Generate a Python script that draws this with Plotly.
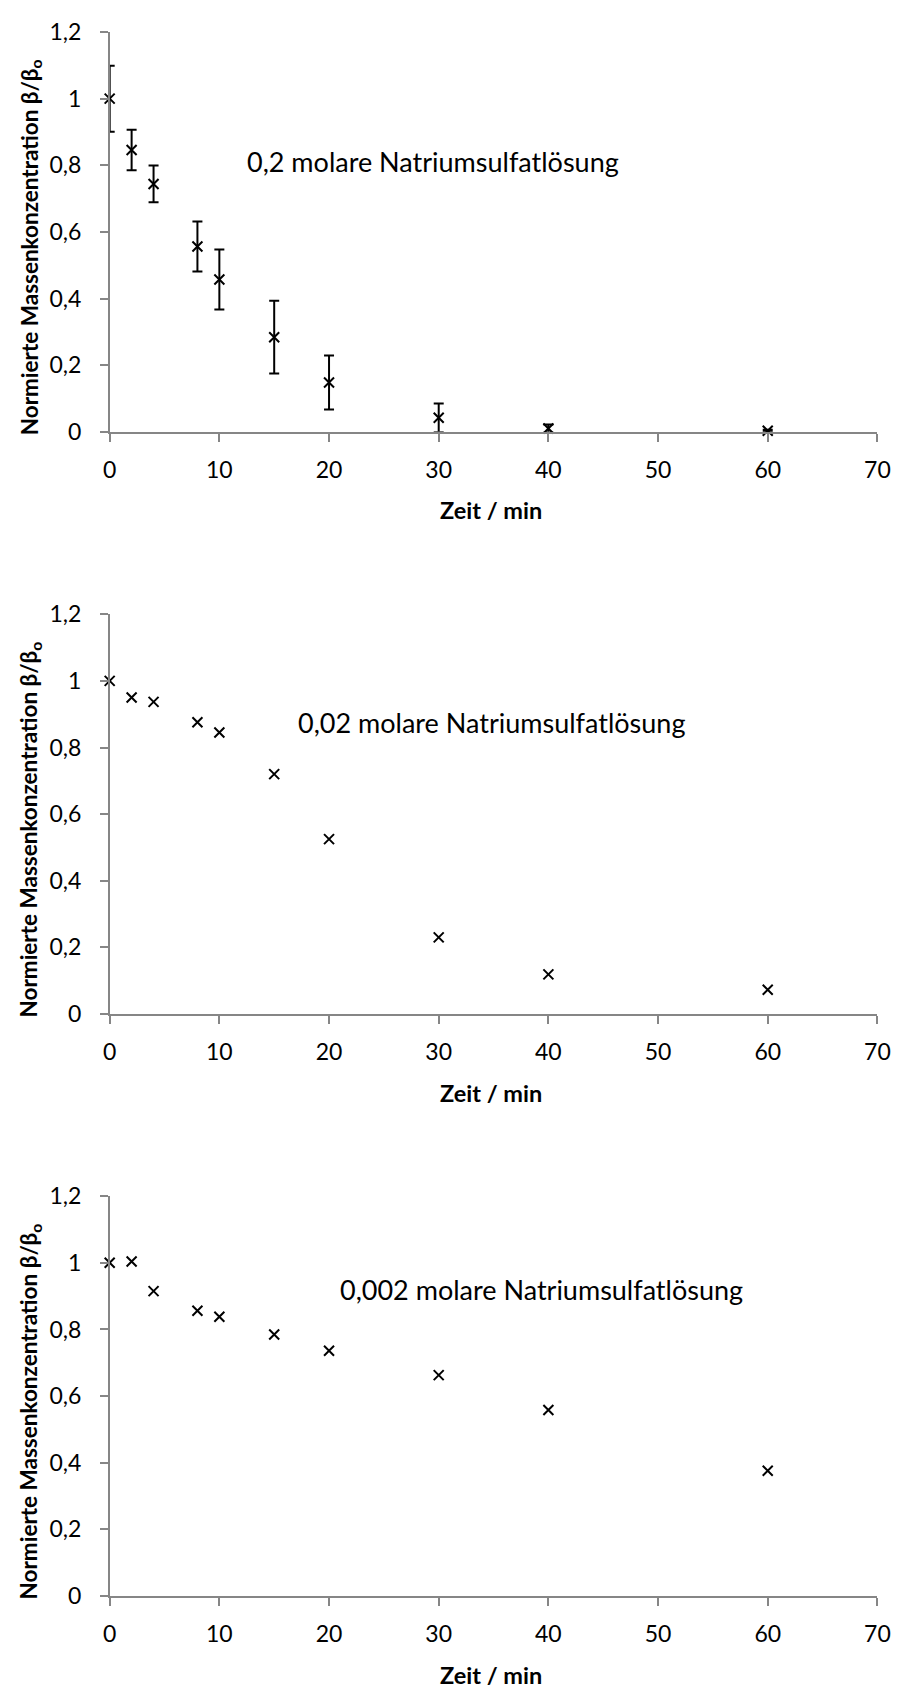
import plotly.graph_objects as go

# Messzeitpunkte (min)
zeit = [0, 2, 4, 8, 10, 15, 20, 30, 40, 60]

# 0,2 molare Natriumsulfatlösung: Mittelwerte und Standardabweichungen
beta_02 = [1.0, 0.846, 0.744, 0.556, 0.457, 0.284, 0.148, 0.042, 0.010, 0.003]
fehler_02 = [0.099, 0.061, 0.055, 0.075, 0.090, 0.109, 0.081, 0.043, 0.012, 0.003]

# 0,02 molare Natriumsulfatlösung
beta_002 = [1.0, 0.950, 0.937, 0.876, 0.845, 0.720, 0.525, 0.230, 0.119, 0.073]

# 0,002 molare Natriumsulfatlösung
beta_0002 = [1.0, 1.004, 0.915, 0.856, 0.838, 0.785, 0.736, 0.663, 0.558, 0.376]

panel_labels = [
    "0,2 molare Natriumsulfatlösung",
    "0,02 molare Natriumsulfatlösung",
    "0,002 molare Natriumsulfatlösung",
]

x_ticks = [0, 10, 20, 30, 40, 50, 60, 70]
x_ticktext = ["0", "10", "20", "30", "40", "50", "60", "70"]
y_ticks = [0, 0.2, 0.4, 0.6, 0.8, 1.0, 1.2]
y_ticktext = ["0", "0,2", "0,4", "0,6", "0,8", "1", "1,2"]

x_title = "Zeit / min"
y_title = "Normierte Massenkonzentration β/β<sub>o</sub>"

W, H = 908, 1697
FONT = "Lato, 'Open Sans', sans-serif"
AXIS_GREY = "#868686"

# pixel layout of the three stacked plot areas
left_px, right_px = 105, 890
tops_px = [17.3, 609.3, 1201.0]
plot_h = 406.5
label_pos = [(243, 0.81), (296, 0.875), (338, 0.92)]


def px_x(p):
    return p / W


def px_y(p):
    return 1 - p / H


fig = go.Figure()

series = [beta_02, beta_002, beta_0002]
for i, ys in enumerate(series):
    n = "" if i == 0 else str(i + 1)
    kw = dict(
        x=zeit,
        y=ys,
        mode="markers",
        marker=dict(symbol="x-thin", size=10, color="black",
                    line=dict(color="black", width=2)),
        xaxis="x" + n,
        yaxis="y" + n,
        showlegend=False,
        cliponaxis=False,
    )
    if i == 0:
        kw["error_y"] = dict(type="data", array=fehler_02, visible=True,
                             color="black", thickness=2, width=5)
    fig.add_trace(go.Scatter(**kw))

axis_common = dict(
    showline=True, linecolor=AXIS_GREY, linewidth=1.5,
    ticks="outside", ticklen=8, tickcolor=AXIS_GREY, tickwidth=1.5,
    showgrid=False, zeroline=False,
    tickfont=dict(family=FONT, size=23, color="black"),
    fixedrange=True,
)

layout = dict(
    width=W, height=H,
    margin=dict(l=0, r=0, t=0, b=0),
    paper_bgcolor="white", plot_bgcolor="white",
    font=dict(family=FONT, color="black"),
    annotations=[],
)

for i, top in enumerate(tops_px):
    n = "" if i == 0 else str(i + 1)
    bottom = top + plot_h
    layout["xaxis" + n] = dict(
        axis_common,
        domain=[px_x(left_px), px_x(right_px)],
        range=[0, 70], tickvals=x_ticks, ticktext=x_ticktext,
        anchor="y" + n, ticklabelstandoff=9,
    )
    layout["yaxis" + n] = dict(
        axis_common,
        domain=[px_y(bottom), px_y(top)],
        range=[0, 1.2], tickvals=y_ticks, ticktext=y_ticktext,
        anchor="x" + n, ticklabelstandoff=14,
    )
    # y-axis title
    layout["annotations"].append(dict(
        text=y_title, textangle=-90, xref="paper", yref="paper",
        x=px_x(24), y=px_y(top + 218.4), xanchor="center", yanchor="middle",
        showarrow=False,
        font=dict(family=FONT, size=22.5, color="black", weight="bold"),
    ))
    # x-axis title
    layout["annotations"].append(dict(
        text=x_title, xref="paper", yref="paper",
        x=px_x(495), y=px_y(bottom + 80), xanchor="center", yanchor="middle",
        showarrow=False,
        font=dict(family=FONT, size=23.5, color="black", weight="bold"),
    ))
    # concentration label inside the plot
    lx, ly = label_pos[i]
    layout["annotations"].append(dict(
        text=panel_labels[i], xref="paper", yref="y" + n,
        x=px_x(lx), y=ly, xanchor="left", yanchor="middle",
        showarrow=False, font=dict(family=FONT, size=27, color="black"),
    ))

fig.update_layout(**layout)
fig.write_html("out.html")
